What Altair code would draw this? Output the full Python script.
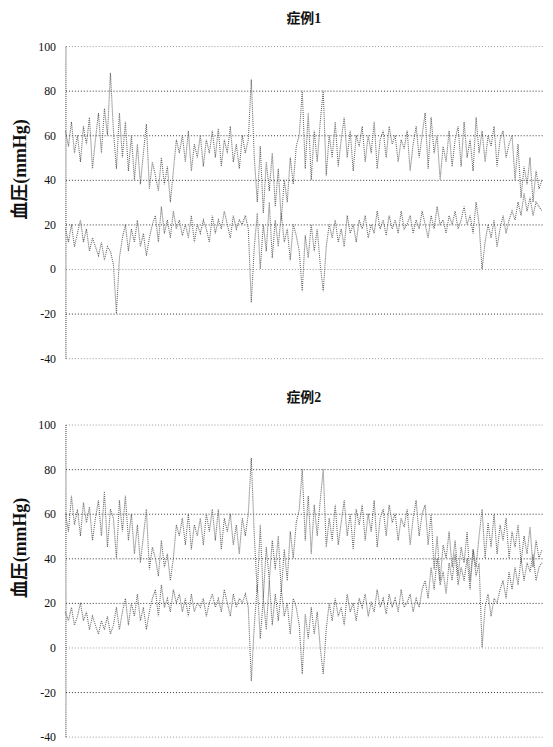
import altair as alt
import pandas as pd

titles = ["症例1", "症例2"]
y_ticks = [-40, -20, 0, 20, 40, 60, 80, 100]

p1_upper = [
    62, 55, 66, 52, 60, 48, 64, 56, 68, 45,
    58, 70, 52, 72, 60, 88, 62, 45, 70, 50,
    66, 44, 60, 40, 56, 38, 52, 65, 36, 48,
    42, 35, 50, 38, 46, 30, 44, 58, 52, 60,
    48, 62, 44, 56, 50, 60, 46, 58, 52, 62,
    50, 63, 46, 58, 52, 64, 48, 56, 45, 60,
    52, 58, 85, 50, 30, 55, 25, 48, 35, 52,
    28, 45, 22, 40, 30, 50, 38, 55, 60, 80,
    45, 70, 40, 62, 48, 66, 80, 42, 60, 50,
    66, 46, 58, 68, 50, 62, 44, 60, 55, 64,
    48, 60, 52, 66, 45, 58, 62, 50, 64, 56,
    60, 48, 58, 54, 62, 44, 56, 64, 50, 60,
    70, 45, 68, 52, 60, 40, 55, 48, 62, 46,
    58, 64, 46, 66, 50, 58, 44, 68, 52, 62,
    48, 60, 55, 64, 46, 58, 62, 50, 56, 60,
    40, 56, 32, 46, 38, 50, 30, 44, 36, 40,
]
p1_lower = [
    18, 12, 20, 10, 16, 22, 12, 18, 8, 14,
    10, 6, 12, 4, 10, 8, 2, -20, 5, 14,
    20, 8, 18, 12, 22, 10, 16, 6, 14, 20,
    24, 12, 28, 16, 22, 14, 26, 18, 22, 15,
    20, 14, 24, 12, 20, 16, 22, 18, 12, 24,
    16, 22, 18, 26, 20, 14, 24, 18, 22, 20,
    24, 18, -15, 10, 25, 0, 20, 8, 30, 5,
    22, 10, 25, 12, 18, 4, 20, 15, 8, -10,
    15, 5, 20, 8, 18, 2, -10, 10, 20, 14,
    22, 12, 18, 10, 24, 16, 20, 12, 22, 18,
    24, 14, 20, 16, 26, 18, 22, 15, 24, 18,
    22, 16, 26, 18, 20, 24, 16, 22, 18, 26,
    20, 14, 24, 18, 28, 20, 22, 16, 24, 20,
    26, 18, 22, 28, 20, 24, 16, 30, 20, 0,
    12, 20, 14, 22, 10, 18, 24, 16, 22, 26,
    22, 30, 24, 34, 26, 32, 24, 30, 28, 26,
]
p2_upper = [
    60, 52, 68, 55, 62, 50, 65, 56, 63, 48,
    58, 66, 50, 70, 45, 62, 58, 40, 66, 52,
    68, 48, 60, 42, 55, 38, 50, 62, 35, 45,
    40, 32, 48, 36, 42, 30, 40, 55, 50, 58,
    46, 60, 44, 55, 50, 58, 46, 60, 52, 62,
    48, 62, 44, 58, 52, 60, 46, 55, 42, 58,
    50, 60, 85, 50, 25, 55, 22, 45, 30, 48,
    35, 50, 25, 44, 30, 52, 40, 56, 62, 80,
    48, 68, 42, 64, 50, 66, 80, 45, 58, 48,
    64, 46, 56, 66, 50, 60, 44, 62, 55, 64,
    48, 60, 52, 66, 45, 58, 62, 50, 64, 56,
    60, 48, 58, 54, 62, 46, 58, 66, 50, 60,
    64, 46, 60, 35, 50, 30, 46, 40, 52, 36,
    48, 32, 45, 38, 52, 30, 44, 36, 50, 62,
    40, 56, 45, 60, 42, 55, 48, 58, 40, 52,
    45, 55, 38, 50, 42, 54, 36, 48, 40, 44,
]
p2_lower = [
    16, 12, 18, 10, 14, 20, 12, 16, 8, 14,
    10, 6, 12, 8, 14, 6, 10, 18, 8, 16,
    22, 10, 20, 14, 24, 12, 18, 8, 16, 22,
    26, 14, 28, 18, 22, 16, 26, 20, 24, 16,
    22, 14, 24, 16, 20, 18, 22, 14, 20, 24,
    18, 22, 16, 26, 20, 14, 24, 18, 22, 20,
    24, 18, -15, 10, 28, 4, 22, 8, 30, 10,
    24, 12, 26, 14, 20, 6, 22, 18, 10, -12,
    15, 4, 18, 6, 16, 0, -12, 8, 20, 12,
    22, 14, 18, 10, 24, 16, 20, 12, 22, 18,
    24, 14, 20, 16, 26, 18, 22, 15, 24, 18,
    22, 16, 26, 18, 20, 24, 16, 22, 18, 26,
    30, 22, 36, 26, 40, 28, 34, 24, 38, 30,
    42, 28, 36, 30, 40, 26, 44, 32, 38, 0,
    18, 24, 14, 22, 20, 26, 30, 22, 34, 26,
    36, 28, 40, 30, 38, 34, 42, 30, 36, 38,
]

SERIF = "'Liberation Serif', 'Noto Sans CJK JP', serif"
NUMFONT = "Liberation Serif"


def make_df(upper, lower):
    rows = []
    for i, v in enumerate(upper):
        rows.append({"t": i, "v": v, "s": "upper"})
    for i, v in enumerate(lower):
        rows.append({"t": i, "v": v, "s": "lower"})
    return pd.DataFrame(rows)


def panel(upper, lower, title):
    df = make_df(upper, lower)
    n = len(upper)
    return (
        alt.Chart(df)
        .mark_line(strokeDash=[1, 1], strokeWidth=1.1, color="#666666")
        .encode(
            x=alt.X("t:Q", axis=None,
                    scale=alt.Scale(domain=[0, n - 1], nice=False, zero=False)),
            y=alt.Y("v:Q", title="血圧(mmHg)",
                    scale=alt.Scale(domain=[-40, 100], nice=False),
                    axis=alt.Axis(values=y_ticks, ticks=False, labelPadding=10,
                                  titlePadding=8, labelFont=NUMFONT, labelFontSize=12,
                                  labelColor="#111", labelExpr="'' + datum.value",
                                  titleFont=SERIF, titleFontSize=18,
                                  titleFontWeight="bold", titleColor="#111",
                                  titleY=124,
                                  domainDash=[1, 1], domainColor="#333",
                                  gridDash=[1, 2], gridWidth=1,
                                  gridColor=alt.condition(
                                      "datum.value === 0 || datum.value === 100 || datum.value === -40",
                                      alt.value("#999999"), alt.value("#333333"))),
                    ),
            detail="s:N",
        )
        .properties(
            width=481, height=315,
            title=alt.TitleParams(title, font=SERIF, fontSize=14, fontWeight="bold",
                                  color="#111", offset=14),
        )
    )


chart = (
    alt.vconcat(panel(p1_upper, p1_lower, titles[0]),
                panel(p2_upper, p2_lower, titles[1]), spacing=27)
    .properties(padding={"left": 4, "top": 1, "right": 0, "bottom": 0})
    .configure_view(stroke=None)
)

chart.save("out.html", embed_options={"renderer": "svg", "actions": False})
